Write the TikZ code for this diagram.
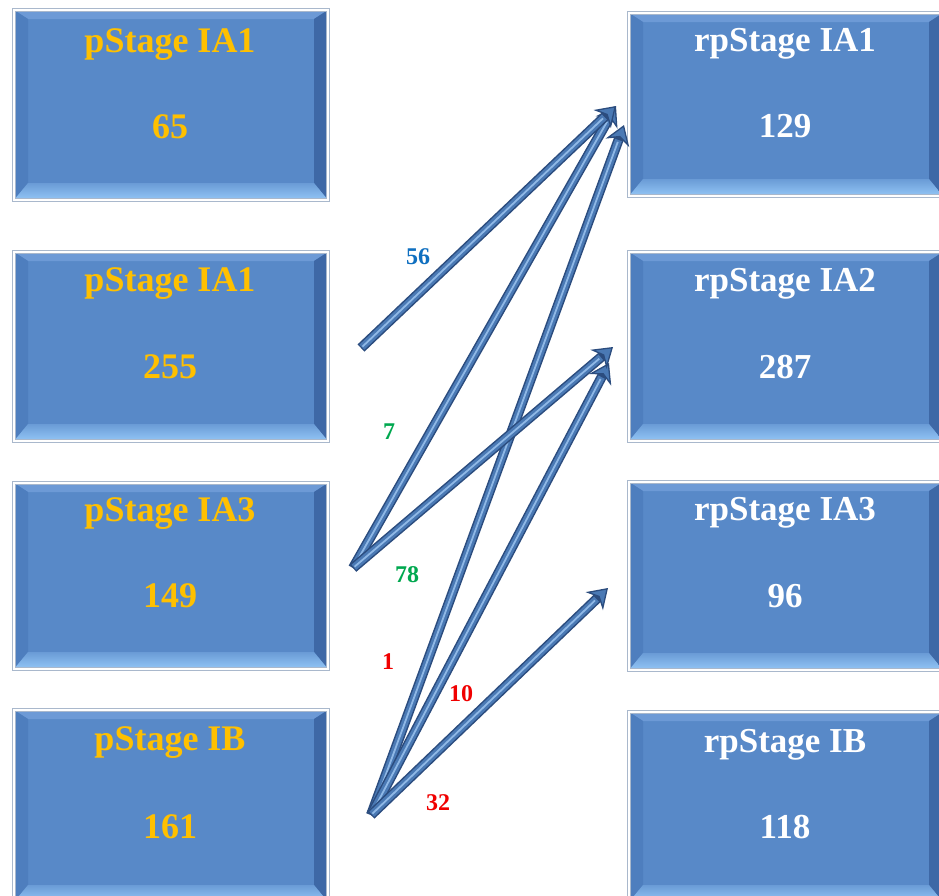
\documentclass[tikz,border=0pt]{standalone}
\usepackage{fontspec}
\setmainfont{Liberation Serif}
\usetikzlibrary{arrows.meta}
\definecolor{boxface}{HTML}{5889C8}
\definecolor{bevtopc}{HTML}{6D9AD6}
\definecolor{bevleftc}{HTML}{4E7EBE}
\definecolor{bevrightc}{HTML}{3E68A6}
\definecolor{bevbotc}{HTML}{93C6F6}
\definecolor{framegray}{HTML}{A9B8CC}
\definecolor{ptext}{HTML}{FFC000}
\definecolor{arrdark}{HTML}{2B4C7E}
\definecolor{arrmid}{HTML}{4A79B4}
\definecolor{arrhi}{HTML}{8FB8E6}
\definecolor{lblue}{HTML}{0F6FC0}
\definecolor{lgreen}{HTML}{00A84F}
\definecolor{lred}{HTML}{F00000}
\begin{document}
\begin{tikzpicture}[x=1pt,y=-1pt,
  stagebox/.style={rectangle, inner sep=0pt, fill=boxface, minimum width=314pt,
    draw=framegray, line width=0.8pt, double=white, double distance=1.6pt,
    path picture={
      \fill[bevtopc] (path picture bounding box.north west) -- (path picture bounding box.north east)
        -- ([xshift=-14pt,yshift=-9pt]path picture bounding box.north east)
        -- ([xshift=14pt,yshift=-9pt]path picture bounding box.north west) -- cycle;
      \fill[bevleftc] (path picture bounding box.north west) -- ([xshift=14pt,yshift=-9pt]path picture bounding box.north west)
        -- ([xshift=14pt,yshift=17pt]path picture bounding box.south west)
        -- (path picture bounding box.south west) -- cycle;
      \fill[bevrightc] (path picture bounding box.north east) -- ([xshift=-14pt,yshift=-9pt]path picture bounding box.north east)
        -- ([xshift=-14pt,yshift=17pt]path picture bounding box.south east)
        -- (path picture bounding box.south east) -- cycle;
      \shade[top color=boxface!70!bevbotc, bottom color=bevbotc]
        (path picture bounding box.south west) -- ([xshift=14pt,yshift=17pt]path picture bounding box.south west)
        -- ([xshift=-14pt,yshift=17pt]path picture bounding box.south east)
        -- (path picture bounding box.south east) -- cycle;
    }},
  ptitle/.style={font=\bfseries\fontsize{36}{40}\selectfont, text=ptext, inner sep=0pt},
  rtitle/.style={font=\bfseries\fontsize{35}{40}\selectfont, text=white, inner sep=0pt},
  lbl/.style={font=\bfseries\fontsize{24}{28}\selectfont, inner sep=0pt},
  flow/.style={draw=arrdark, line width=10pt,
    -{Stealth[length=19pt,width=25pt,inset=6pt,line width=1.3pt,fill=arrmid]},
    postaction={draw=arrmid, line width=7pt, -, shorten >=16pt, shorten <=1.2pt},
    postaction={draw=arrhi, line width=1.8pt, -, shorten >=18pt, shorten <=2pt}}
]
\clip (0,0) rectangle (939,895);
\fill[white] (0,0) rectangle (939,895);

% left boxes
\node[stagebox, minimum height=190pt] (L1) at (171,105) {};
\node[stagebox, minimum height=189pt] (L2) at (171,346.5) {};
\node[stagebox, minimum height=186pt] (L3) at (171,576) {};
\node[stagebox, minimum height=192pt] (L4) at (171,806) {};
% right boxes
\node[stagebox, minimum height=183pt] (R1) at (786,104.5) {};
\node[stagebox, minimum height=189pt] (R2) at (786,346.5) {};
\node[stagebox, minimum height=188pt] (R3) at (786,576) {};
\node[stagebox, minimum height=190pt] (R4) at (786,807) {};

% texts
\node[ptitle] (L1t) at (170,45) {pStage IA1};
\node[ptitle] (L1n) at (170,127) {65};
\node[ptitle] (L2t) at (170,284) {pStage IA1};
\node[ptitle] (L2n) at (170,367) {255};
\node[ptitle] (L3t) at (170,514) {pStage IA3};
\node[ptitle] (L3n) at (170,596) {149};
\node[ptitle] (L4t) at (170,743) {pStage IB};
\node[ptitle] (L4n) at (170,827) {161};

\node[rtitle] (R1t) at (785,44) {rpStage IA1};
\node[rtitle] (R1n) at (785,126) {129};
\node[rtitle] (R2t) at (785,284) {rpStage IA2};
\node[rtitle] (R2n) at (785,367) {287};
\node[rtitle] (R3t) at (785,513) {rpStage IA3};
\node[rtitle] (R3n) at (785,596) {96};
\node[rtitle] (R4t) at (785,745) {rpStage IB};
\node[rtitle] (R4n) at (785,827) {118};

% arrow ends
\coordinate (s2) at (361,348);
\coordinate (s3) at (353,568);
\coordinate (s4) at (371,815);
\coordinate (t1a) at (616,106);
\coordinate (t1b) at (624,125);
\coordinate (t2a) at (613,347);
\coordinate (t2b) at (609,363);
\coordinate (t3) at (608,588);

\draw[flow] (s3) -- (t1a);
\draw[flow] (s4) -- (t1b);
\draw[flow] (s2) -- (t1a);
\draw[flow] (s4) -- (t2b);
\draw[flow] (s3) -- (t2a);
\draw[flow] (s4) -- (t3);

% labels
\node[lbl, text=lblue] (n56) at (418,257) {56};
\node[lbl, text=lgreen] (n7) at (389,432) {7};
\node[lbl, text=lgreen] (n78) at (407,575) {78};
\node[lbl, text=lred] (n1) at (388,662) {1};
\node[lbl, text=lred] (n10) at (461,694) {10};
\node[lbl, text=lred] (n32) at (438,803) {32};
\end{tikzpicture}
\end{document}
